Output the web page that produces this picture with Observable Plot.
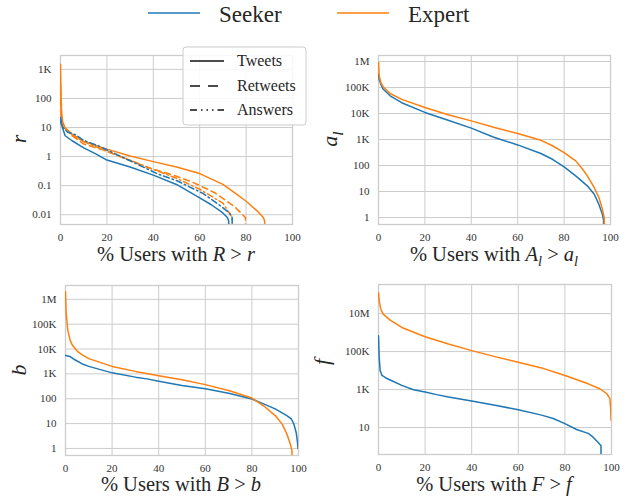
<!DOCTYPE html>
<html><head><meta charset="utf-8">
<script src="https://cdn.jsdelivr.net/npm/d3@7"></script>
<script src="https://cdn.jsdelivr.net/npm/@observablehq/plot@0.6"></script>
<style>
body{margin:0;background:#fff}
#root{position:relative;width:628px;height:497px;overflow:hidden;background:#fff}
#root text, #root tspan{font-family:"Liberation Serif", "DejaVu Serif", serif}
.p{position:absolute}
svg{overflow:visible}
</style>
</head><body><div id="root"></div>
<script>
// ---------- data ----------
const xTicks = [0, 20, 40, 60, 80, 100];

// Panel r : R > r
const rTicks = [0.01, 0.1, 1, 10, 100, 1000];
const rSeekerTweetsX = [0, 0.3, 1, 2, 5, 10, 15, 20, 30, 40, 50, 60, 65, 70, 72, 72.5, 72.5];
const rSeekerTweetsY = [22, 14, 9, 5.2, 3.5, 2, 1.27, 0.76, 0.44, 0.23, 0.11, 0.038, 0.022, 0.0115, 0.0078, 0.006, 0.003];
const rSeekerAnswersX = [0, 0.5, 1, 3, 6.5, 10, 16, 25, 33, 42, 50, 61.6, 69.4, 73, 74, 74];
const rSeekerAnswersY = [20, 12, 10, 7, 5.6, 3.6, 2.4, 1.1, 0.55, 0.25, 0.15, 0.053, 0.019, 0.011, 0.008, 0.003];
const rExpertTweetsX = [0, 0.2, 0.5, 1, 2, 5, 10, 20, 30, 40, 50, 60, 70, 75, 80, 85, 87.5, 88, 88];
const rExpertTweetsY = [1500, 150, 30, 15, 9.6, 5.9, 3.3, 1.8, 1.05, 0.67, 0.44, 0.26, 0.11, 0.057, 0.029, 0.013, 0.0078, 0.006, 0.003];
const rExpertRetweetsX = [0, 0.3, 1, 5, 10, 19.4, 29, 37.5, 48, 57, 66.5, 75, 78, 79.7, 79.7];
const rExpertRetweetsY = [200, 20, 12, 5.2, 2.7, 1.6, 0.79, 0.42, 0.24, 0.13, 0.057, 0.019, 0.011, 0.008, 0.003];
const rExpertAnswersX = [0, 0.5, 1, 5, 10, 20, 30, 40, 50, 60, 70, 72, 74, 74];
const rExpertAnswersY = [300, 15, 11, 5.5, 3.3, 1.5, 0.75, 0.36, 0.18, 0.075, 0.025, 0.014, 0.008, 0.003];

// Panel a_l : A_l > a_l
const aTicks = [1, 10, 100, 1e3, 1e4, 1e5, 1e6];
const aSeekerX = [0, 0.3, 1, 2, 5, 10, 20, 30, 40, 50, 60, 70, 75, 80, 85, 90, 93, 95, 96.5, 97, 97];
const aSeekerY = [324000, 200000, 135000, 87000, 48000, 26000, 11000, 5500, 2750, 1200, 620, 290, 174, 89, 40, 16.6, 7.9, 3.2, 1.35, 0.8, 0.3];
const aExpertX = [0, 0.3, 1, 2, 5, 10, 20, 30, 40, 50, 60, 70, 75, 80, 85, 88, 90, 93, 95, 96.5, 97.3, 97.3];
const aExpertY = [912000, 282000, 155000, 107000, 59000, 35000, 17000, 8900, 5200, 2900, 1700, 930, 575, 316, 151, 72, 40, 14, 5.9, 2.1, 1, 0.3];

// Panel b : B > b
const bTicks = [1, 10, 100, 1e3, 1e4, 1e5, 1e6];
const bSeekerX = [0, 2, 4, 7, 10, 20, 30, 35, 40, 50, 60, 70, 80, 85, 90, 95, 97, 98, 99, 99.5, 99.8];
const bSeekerY = [5500, 5000, 3700, 2570, 2000, 1100, 740, 630, 510, 340, 250, 166, 98, 62, 39, 21, 15, 9.6, 4.4, 2, 1];
const bExpertX = [0, 0.3, 1, 2, 3, 5, 7, 10, 20, 30, 40, 50, 60, 70, 80, 85, 90, 93, 95, 96.5, 97.2, 97.2];
const bExpertY = [2000000, 263000, 56000, 22400, 14100, 8300, 6000, 4100, 2000, 1260, 850, 575, 370, 214, 107, 52, 21, 9.5, 3.8, 1.5, 0.8, 0.3];

// Panel f : F > f
const fTicks = [10, 1e3, 1e5, 1e7];
const fSeekerX = [0, 0.3, 0.7, 1.5, 3, 5, 10, 15, 20, 25, 30, 40, 50, 60, 70, 75, 80, 85, 90, 92, 94, 95.5, 95.5];
const fSeekerY = [676000, 50000, 10000, 5500, 4200, 3200, 1660, 980, 740, 540, 410, 250, 148, 87, 45, 30, 16, 7.9, 4.9, 3.2, 1.8, 1.1, 0.2];
const fExpertX = [0, 0.3, 1, 2, 5, 10, 20, 30, 40, 50, 60, 70, 80, 90, 95, 98, 99.3, 99.6, 99.8];
const fExpertY = [1.26e8, 4.7e7, 1.7e7, 9.3e6, 4.5e6, 1.86e6, 6.0e5, 2.5e5, 1.12e5, 5.4e4, 2.75e4, 1.38e4, 5500, 2000, 1100, 600, 330, 120, 24];

// ---------- style ----------
const BLUE = "#1f77b4", ORANGE = "#ff7f0e";
const SERIF = "Liberation Serif, DejaVu Serif, serif";
const DASH = "6,4", DASHDOT = "6,3,1.5,3";

const rows = (xs, ys) => xs.map((x, i) => ({x, y: ys[i]}));
const fmt = d => d >= 1e6 ? (d / 1e6) + "M" : d >= 1e3 ? (d / 1e3) + "K" : String(d);

const root = document.getElementById("root");

function panel(cfg) {
  const marks = [
    Plot.gridX(xTicks, {stroke: "#cccccc", strokeOpacity: 1, strokeWidth: 1}),
    Plot.gridY(cfg.ticks, {stroke: "#cccccc", strokeOpacity: 1, strokeWidth: 1}),
    Plot.frame({stroke: "#cccccc", strokeWidth: 1.3}),
    Plot.axisX({ticks: xTicks, tickSize: 0, tickPadding: 9, label: null, tickFormat: d => String(d)}),
    Plot.axisY({ticks: cfg.ticks, tickSize: 0, tickPadding: 9, label: null, tickFormat: fmt})
  ];
  for (const s of cfg.series) {
    marks.push(Plot.line(rows(s.x, s.y), {x: "x", y: "y", stroke: s.color, strokeWidth: 1.5, strokeDasharray: s.dash, clip: true}));
  }
  const chart = Plot.plot({
    width: cfg.w, height: cfg.h,
    marginLeft: cfg.ml, marginRight: cfg.mr, marginTop: cfg.mt, marginBottom: cfg.mb,
    x: {domain: [0, 100]},
    y: {type: "log", domain: cfg.domain},
    style: {fontFamily: SERIF, fontSize: "11px", color: "#333", background: "transparent"},
    marks
  });
  chart.classList.add("p");
  chart.style.left = cfg.left + "px";
  chart.style.top = cfg.top + "px";
  root.appendChild(chart);
}

panel({left: 0, top: 40, w: 310, h: 240, ml: 60, mr: 18, mt: 15, mb: 56,
  ticks: rTicks, domain: [0.0046, 3000],
  series: [
    {x: rExpertTweetsX, y: rExpertTweetsY, color: ORANGE, dash: null},
    {x: rExpertRetweetsX, y: rExpertRetweetsY, color: ORANGE, dash: DASH},
    {x: rExpertAnswersX, y: rExpertAnswersY, color: ORANGE, dash: DASHDOT},
    {x: rSeekerTweetsX, y: rSeekerTweetsY, color: BLUE, dash: null},
    {x: rSeekerAnswersX, y: rSeekerAnswersY, color: BLUE, dash: DASHDOT}
  ]});
panel({left: 310, top: 40, w: 318, h: 240, ml: 68, mr: 18, mt: 15, mb: 56,
  ticks: aTicks, domain: [0.54, 1.7e6],
  series: [
    {x: aSeekerX, y: aSeekerY, color: BLUE, dash: null},
    {x: aExpertX, y: aExpertY, color: ORANGE, dash: null}
  ]});
panel({left: 0, top: 280, w: 310, h: 217, ml: 65, mr: 12, mt: 5, mb: 42,
  ticks: bTicks, domain: [0.52, 3.6e6],
  series: [
    {x: bSeekerX, y: bSeekerY, color: BLUE, dash: null},
    {x: bExpertX, y: bExpertY, color: ORANGE, dash: null}
  ]});
panel({left: 310, top: 280, w: 318, h: 217, ml: 68, mr: 17, mt: 4, mb: 43,
  ticks: fTicks, domain: [0.38, 3.4e8],
  series: [
    {x: fSeekerX, y: fSeekerY, color: BLUE, dash: null},
    {x: fExpertX, y: fExpertY, color: ORANGE, dash: null}
  ]});

// ---------- overlay: legends & axis labels ----------
const ov = d3.select(root).append("svg")
  .attr("width", 628).attr("height", 497)
  .style("position", "absolute").style("left", "0px").style("top", "0px")
  .style("pointer-events", "none");

// top legend
ov.append("line").attr("x1", 148).attr("x2", 200).attr("y1", 13).attr("y2", 13).attr("stroke", BLUE).attr("stroke-width", 1.5);
ov.append("text").attr("x", 219).attr("y", 22).attr("font-size", 23).attr("fill", "#262626").text("Seeker");
ov.append("line").attr("x1", 337).attr("x2", 389).attr("y1", 13).attr("y2", 13).attr("stroke", ORANGE).attr("stroke-width", 1.5);
ov.append("text").attr("x", 408).attr("y", 22).attr("font-size", 23).attr("fill", "#262626").text("Expert");

// style legend inside panel 1
ov.append("rect").attr("x", 183).attr("y", 47).attr("width", 123).attr("height", 78).attr("rx", 3)
  .attr("fill", "#fff").attr("fill-opacity", 0.85).attr("stroke", "#cccccc");
const styleLegend = [["Tweets", null, 61], ["Retweets", "10,8", 86], ["Answers", "7,4,1.5,4,1.5,4,1.5,4", 110]];
for (const [t, d, y] of styleLegend) {
  const l = ov.append("line").attr("x1", 190).attr("x2", 224).attr("y1", y).attr("y2", y).attr("stroke", "#111").attr("stroke-width", 1.6);
  if (d) l.attr("stroke-dasharray", d);
  ov.append("text").attr("x", 237).attr("y", y + 5).attr("font-size", 16).attr("fill", "#262626").text(t);
}

function richText(x, y, parts, size, rotate) {
  const t = ov.append("text").attr("font-size", size).attr("fill", "#262626").attr("text-anchor", "middle");
  if (rotate) t.attr("transform", `translate(${x},${y}) rotate(-90)`);
  else t.attr("x", x).attr("y", y);
  let lowered = false;
  for (const [s, kind] of parts) {
    const sp = t.append("tspan").text(s);
    if (kind === "sub") {
      sp.attr("font-style", "italic").attr("font-size", size * 0.7).attr("dy", size * 0.25);
      lowered = true;
    } else {
      if (kind === "i") sp.attr("font-style", "italic");
      if (lowered) { sp.attr("dy", -size * 0.25); lowered = false; }
    }
  }
}
// x labels
richText(176, 261, [["% Users with ", ""], ["R", "i"], [" > ", ""], ["r", "i"]], 20.5);
richText(494, 261, [["% Users with ", ""], ["A", "i"], ["l", "sub"], [" > ", ""], ["a", "i"], ["l", "sub"]], 20.5);
richText(181, 491, [["% Users with ", ""], ["B", "i"], [" > ", ""], ["b", "i"]], 20.5);
richText(494, 491, [["% Users with ", ""], ["F", "i"], [" > ", ""], ["f", "i"]], 20.5);
// y labels
richText(26, 139, [["r", "i"]], 22, true);
richText(337, 139, [["a", "i"], ["l", "sub"]], 22, true);
richText(26, 370, [["b", "i"]], 22, true);
richText(329, 362, [["f", "i"]], 22, true);
</script>
</body></html>
